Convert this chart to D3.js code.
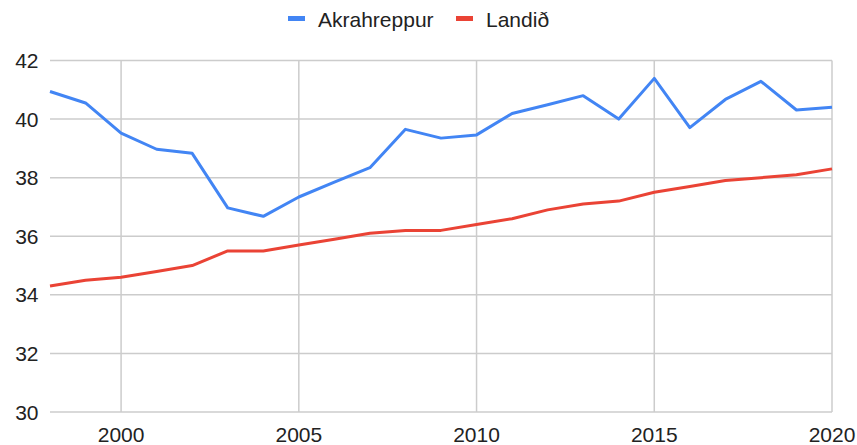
<!DOCTYPE html>
<html>
<head>
<meta charset="utf-8">
<script src="https://cdn.jsdelivr.net/npm/d3@7"></script>
<style>
  body { margin: 0; background: #fff; }
  text { font-family: Arial, "Liberation Sans", sans-serif; fill: #222; }
</style>
</head>
<body>
<div id="chart"></div>
<script>
const years = d3.range(1998, 2021);
const akrahreppur = [40.94, 40.55, 39.52, 38.97, 38.83, 36.97, 36.68, 37.34, 37.85, 38.34,
    39.65, 39.35, 39.46, 40.19, 40.49, 40.8, 40.0, 41.39, 39.71, 40.67, 41.29, 40.31, 40.4];
const landid = [34.3, 34.5, 34.6, 34.8, 35.0, 35.5, 35.5, 35.7, 35.9, 36.1,
    36.2, 36.2, 36.4, 36.6, 36.9, 37.1, 37.2, 37.5, 37.7, 37.9, 38.0, 38.1, 38.3];
const seriesNames = ["Akrahreppur", "Landið"];
const colors = ["#4285f4", "#ea4335"];
const yTicks = [30, 32, 34, 36, 38, 40, 42];
const xTicks = [2000, 2005, 2010, 2015, 2020];

const width = 857, height = 445;
const margin = {top: 60.5, right: 25, bottom: 33, left: 50};

const svg = d3.select("#chart")
    .append("svg")
    .attr("width", width)
    .attr("height", height);

const x = d3.scaleLinear()
    .domain([1998, 2020])
    .range([margin.left, width - margin.right]);

const y = d3.scaleLinear()
    .domain([30, 42])
    .range([height - margin.bottom, margin.top]);

// gridlines
svg.append("g")
    .selectAll("line")
    .data(yTicks)
    .enter()
    .append("line")
    .attr("x1", x(1998))
    .attr("x2", x(2020))
    .attr("y1", d => y(d))
    .attr("y2", d => y(d))
    .attr("stroke", "#cccccc")
    .attr("stroke-width", 1.5);

svg.append("g")
    .selectAll("line")
    .data(xTicks)
    .enter()
    .append("line")
    .attr("x1", d => x(d))
    .attr("x2", d => x(d))
    .attr("y1", y(42))
    .attr("y2", y(30))
    .attr("stroke", "#cccccc")
    .attr("stroke-width", 1.5);

// axis labels
svg.append("g")
    .selectAll("text")
    .data(yTicks)
    .enter()
    .append("text")
    .attr("x", 38.5)
    .attr("y", d => y(d))
    .attr("dy", "0.36em")
    .attr("text-anchor", "end")
    .style("font-size", "21px")
    .text(d => d);

svg.append("g")
    .selectAll("text")
    .data(xTicks)
    .enter()
    .append("text")
    .attr("x", d => x(d))
    .attr("y", 441.5)
    .attr("text-anchor", "middle")
    .style("font-size", "21px")
    .text(d => d);

// lines
const line = d3.line()
    .x((d, i) => x(years[i]))
    .y(d => y(d));

svg.append("g")
    .selectAll("path")
    .data([akrahreppur, landid])
    .enter()
    .append("path")
    .attr("d", line)
    .attr("fill", "none")
    .attr("stroke", (d, i) => colors[i])
    .attr("stroke-width", 3)
    .attr("stroke-linejoin", "round");

// legend
const legendX = [288, 456];
const legend = svg.append("g")
    .selectAll("g")
    .data(seriesNames)
    .enter()
    .append("g")
    .attr("transform", (d, i) => `translate(${legendX[i]},0)`);

legend.append("rect")
    .attr("x", 0)
    .attr("y", 16)
    .attr("width", 17)
    .attr("height", 5)
    .attr("fill", (d, i) => colors[i]);

legend.append("text")
    .attr("x", 30)
    .attr("y", 26.5)
    .style("font-size", "21px")
    .text(d => d);
</script>
</body>
</html>
